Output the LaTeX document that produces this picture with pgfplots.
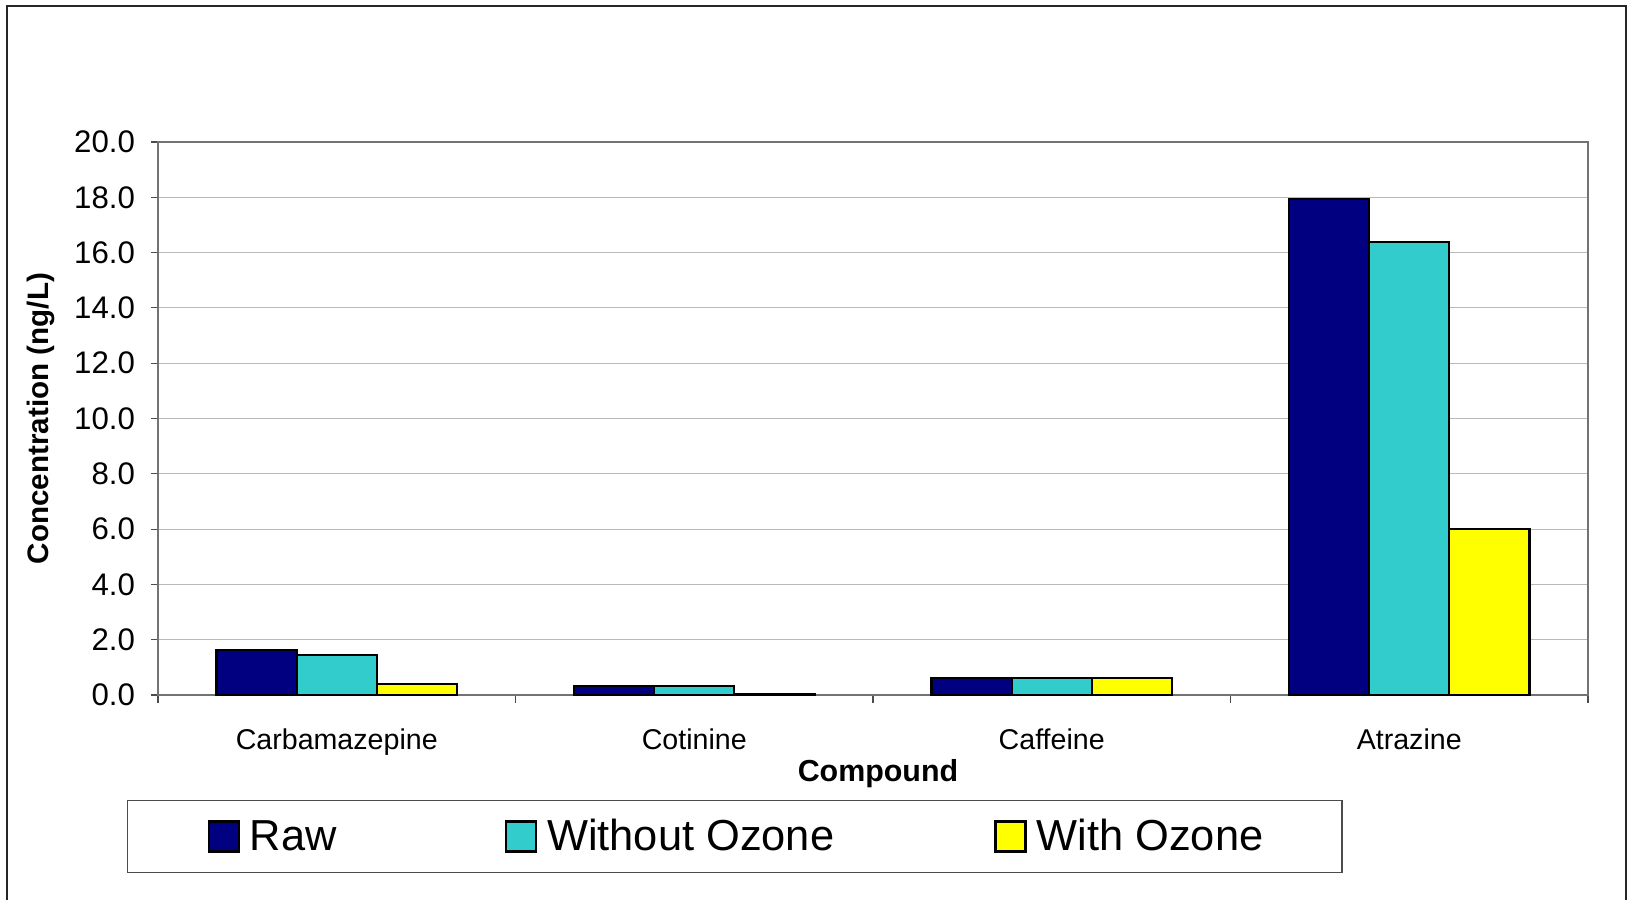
\documentclass[border=0pt]{standalone}
\usepackage{pgfplots}
\pgfplotsset{compat=1.18}
\usepackage{fontspec}
\setmainfont{Liberation Sans}
\definecolor{rawc}{HTML}{000080}
\definecolor{woc}{HTML}{33CCCC}
\definecolor{wc}{HTML}{FFFF00}
\begin{document}
\begin{tikzpicture}
\useasboundingbox (-79pt,-102.5pt) rectangle (736pt,347.5pt);
\draw[line width=0.9pt, black!85] (-75.5pt,-120pt) -- (-75.5pt,344.5pt) -- (733.9pt,344.5pt) -- (733.9pt,-120pt);
\begin{axis}[
  at={(0,0)}, anchor=south west,
  scale only axis, width=715pt, height=276.5pt,
  ybar=0pt, bar width=0.224,
  xmin=-0.5, xmax=3.5, ymin=0, ymax=20,
  xtick={0,1,2,3},
  xticklabels={Carbamazepine,Cotinine,Caffeine,Atrazine},
  minor xtick={-0.5,0.5,1.5,2.5,3.5},
  ytick={0,2,...,20},
  tick align=outside,
  xtick pos=bottom, ytick pos=left,
  major x tick style={draw=none},
  minor x tick style={black!70, line width=0.6pt},
  major y tick style={black!70, line width=0.6pt},
  major tick length=3.5pt, minor tick length=4pt,
  ymajorgrids, grid style={gray!55, line width=0.5pt},
  axis line style={black!55, line width=1pt},
  xticklabel style={font=\fontsize{14.3}{17}\selectfont, yshift=-10pt},
  yticklabel style={font=\fontsize{15.6}{18}\selectfont, /pgf/number format/fixed, /pgf/number format/fixed zerofill, /pgf/number format/precision=1, /pgf/number format/assume math mode=true, xshift=-4.5pt},
  xlabel={\textbf{Compound}},
  ylabel={\textbf{Concentration (ng/L)}},
  xlabel style={font=\fontsize{15.2}{18}\selectfont, at={(axis description cs:0.5035,-0.1415)}, anchor=center},
  ylabel style={font=\fontsize{14.8}{18}\selectfont, at={(axis description cs:-0.082,0.5)}, anchor=center},
  every axis plot/.append style={draw=black, line width=1.2pt},
  legend columns=3,
  legend image code/.code={\path (-5.7pt,0pt); \draw[#1, line width=1.2pt] (0pt,-7.5pt) rectangle (15pt,7.5pt);},
  legend style={at={(axis description cs:-0.0217,-0.19)}, anchor=north west,
    draw=black!70, line width=0.6pt,
    font=\fontsize{21.7}{26}\selectfont,
    inner xsep=34.3pt, inner ysep=7.4pt,
    /tikz/column 2/.style={column sep=73.3pt},
    /tikz/column 4/.style={column sep=69.3pt},
    nodes={inner xsep=5pt}},
]
\addplot[fill=rawc] coordinates {(0,1.63) (1,0.32) (2,0.61) (3,17.93)};
\addplot[fill=woc] coordinates {(0,1.45) (1,0.32) (2,0.61) (3,16.39)};
\addplot[fill=wc] coordinates {(0,0.40) (1,0.03) (2,0.61) (3,6.0)};
\legend{Raw, Without Ozone, With Ozone}
\end{axis}
\end{tikzpicture}
\end{document}
